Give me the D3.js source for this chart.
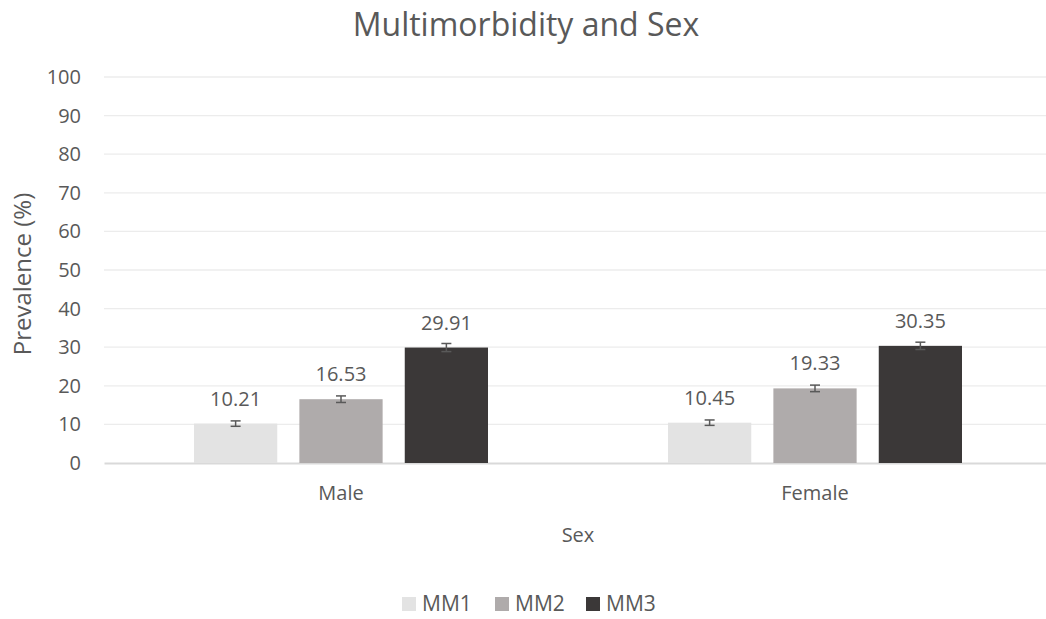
<!DOCTYPE html>
<html>
<head>
<meta charset="utf-8">
<script src="https://cdn.jsdelivr.net/npm/d3@7"></script>
<style>
  body { margin: 0; background: #fff; }
  text { font-family: "Open Sans", sans-serif; fill: #595959; }
</style>
</head>
<body>
<div id="chart"></div>
<script>
// Data
const categories = ["Male", "Female"];
const series = ["MM1", "MM2", "MM3"];
const mm1 = [10.21, 10.45];
const mm2 = [16.53, 19.33];
const mm3 = [29.91, 30.35];
const err1 = [0.7, 0.7];
const err2 = [0.85, 0.85];
const err3 = [1.05, 0.95];
const yTicks = [0, 10, 20, 30, 40, 50, 60, 70, 80, 90, 100];
const colors = ["#e3e3e3", "#afabab", "#3b3838"];

const values = [mm1, mm2, mm3];
const errors = [err1, err2, err3];

// Set up the dimensions and margins
const W = 1046, H = 619;
const margin = {top: 77, right: -6, bottom: 156, left: 104},
      width = W - margin.left - margin.right,
      height = H - margin.top - margin.bottom;

const svg = d3.select("#chart")
    .append("svg")
    .attr("width", W)
    .attr("height", H);

const g = svg.append("g")
    .attr("transform", `translate(${margin.left},${margin.top})`);

// Scales
const x0 = d3.scaleBand()
    .domain(categories)
    .range([0, width]);

const x1 = d3.scaleBand()
    .domain(series)
    .range([90, x0.bandwidth() - 90])
    .paddingInner(0.21);

const y = d3.scaleLinear()
    .domain([0, 100])
    .range([height, 0]);

// Horizontal grid lines
g.selectAll("line.grid")
  .data(yTicks.slice(1))
  .enter()
  .append("line")
  .attr("class", "grid")
  .attr("x1", 0)
  .attr("x2", width)
  .attr("y1", d => y(d))
  .attr("y2", d => y(d))
  .style("stroke", "#ececec")
  .style("stroke-width", 1.3);

// Y axis
const yAxis = g.append("g")
    .call(d3.axisLeft(y).tickValues(yTicks).tickSize(0).tickPadding(23));
yAxis.select(".domain").remove();
yAxis.selectAll("text")
    .style("font-size", "20px")
    .style("fill", "#595959")
    .style("font-family", "Open Sans, sans-serif");

// X axis
const xAxis = g.append("g")
    .attr("transform", `translate(0,${height})`)
    .call(d3.axisBottom(x0).tickSize(0).tickPadding(23));
xAxis.select(".domain")
    .style("stroke", "#d9d9d9")
    .style("stroke-width", 1.8);
xAxis.selectAll("text")
    .style("font-size", "20px")
    .style("fill", "#595959")
    .style("font-family", "Open Sans, sans-serif");

// Bars
const groups = g.selectAll("g.cat")
    .data(categories)
    .enter()
    .append("g")
    .attr("class", "cat")
    .attr("transform", d => `translate(${x0(d)},0)`);

groups.each(function(cat, ci) {
    const grp = d3.select(this);
    series.forEach((s, si) => {
        const v = values[si][ci];
        const e = errors[si][ci];
        const bx = x1(s);
        const bw = x1.bandwidth();
        grp.append("rect")
            .attr("x", bx)
            .attr("y", y(v))
            .attr("width", bw)
            .attr("height", y(0) - y(v))
            .attr("fill", colors[si]);

        // Error bar
        const cx = bx + bw / 2;
        grp.append("line")
            .attr("x1", cx).attr("x2", cx)
            .attr("y1", y(v + e)).attr("y2", y(v - e))
            .style("stroke", "#595959").style("stroke-width", 1.5);
        [v + e, v - e].forEach(t => {
            grp.append("line")
                .attr("x1", cx - 5).attr("x2", cx + 5)
                .attr("y1", y(t)).attr("y2", y(t))
                .style("stroke", "#595959").style("stroke-width", 1.5);
        });

        // Value label
        grp.append("text")
            .attr("x", cx)
            .attr("y", y(v) - 18)
            .attr("text-anchor", "middle")
            .style("font-size", "20px")
            .text(v.toFixed(2));
    });
});

// Title
svg.append("text")
    .attr("x", 526)
    .attr("y", 36)
    .attr("text-anchor", "middle")
    .style("font-size", "32px")
    .text("Multimorbidity and Sex");

// X axis label
svg.append("text")
    .attr("x", 578)
    .attr("y", 542)
    .attr("text-anchor", "middle")
    .style("font-size", "20px")
    .text("Sex");

// Y axis label
svg.append("text")
    .attr("transform", "translate(31,274) rotate(-90)")
    .attr("text-anchor", "middle")
    .style("font-size", "24px")
    .text("Prevalence (%)");

// Legend
const legendX = [402, 495, 586];
const legend = svg.selectAll("g.legend")
    .data(series)
    .enter()
    .append("g")
    .attr("class", "legend")
    .attr("transform", (d, i) => `translate(${legendX[i]},597)`);
legend.append("rect")
    .attr("width", 14)
    .attr("height", 14)
    .attr("fill", (d, i) => colors[i]);
legend.append("text")
    .attr("x", 20)
    .attr("y", 14)
    .style("font-size", "21px")
    .text(d => d);
</script>
</body>
</html>
